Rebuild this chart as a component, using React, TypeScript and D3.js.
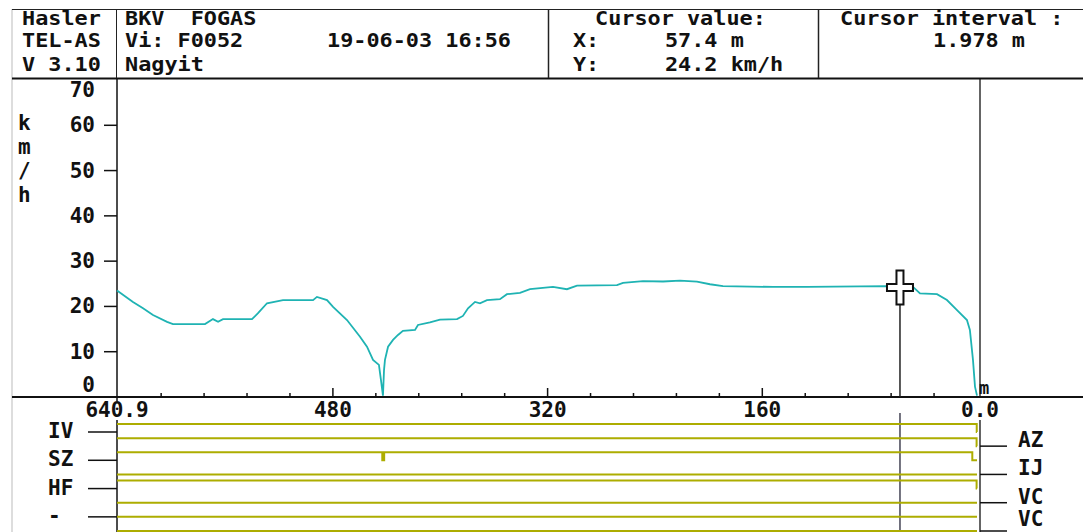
import * as d3 from "d3";

// speed recording, distance (m) counted down to the stop point
const distance = [
  640.9, 629.0, 621.5, 614.1, 603.6, 599.2, 575.3, 569.4, 565.6, 561.9, 540.3, 535.8, 529.1,
  517.2, 494.8, 491.9, 484.4, 479.9, 469.5, 459.8, 454.6, 450.1, 445.7, 444.2, 442.7, 441.9,
  441.2, 438.9, 435.2, 431.5, 427.8, 418.8, 416.6, 407.7, 400.2, 387.5, 383.1, 379.3, 374.1,
  370.4, 365.2, 355.5, 350.3, 340.6, 333.1, 316.0, 305.6, 298.1, 268.3, 263.8, 248.9, 234.0,
  221.3, 208.7, 199.0, 189.3, 152.0, 126.7, 67.1, 57.4, 47.7, 42.5, 29.8, 22.4, 14.9, 7.5,
  5.3, 3.0, 1.5, 0.0,
];
const speed = [
  23.5, 21.0, 19.6, 18.1, 16.6, 16.1, 16.1, 17.2, 16.6, 17.2, 17.2, 18.5, 20.7,
  21.4, 21.4, 22.1, 21.4, 19.9, 17.0, 13.3, 11.1, 8.2, 7.1, 3.8, 0.3, 6.0,
  8.2, 11.1, 12.6, 13.7, 14.6, 14.8, 15.9, 16.5, 17.1, 17.2, 17.9, 19.6, 21.0,
  20.7, 21.4, 21.6, 22.7, 23.0, 23.8, 24.3, 23.8, 24.6, 24.7, 25.2, 25.6, 25.5,
  25.7, 25.5, 24.9, 24.5, 24.3, 24.3, 24.5, 24.2, 24.3, 22.9, 22.7, 21.4, 19.2, 17.0,
  14.8, 8.2, 2.3, 0.3,
];

const yTicks = [10, 20, 30, 40, 50, 60];
const yTickLabels = [0, 10, 20, 30, 40, 50, 60, 70];
const xMajorTicks = [480, 320, 160];
const xMinorTicks = [608, 576, 544, 512, 448, 416, 384, 352, 288, 256, 224, 192, 128, 96, 64, 32];
const xTickLabels = [
  { v: 640.9, t: "640.9" },
  { v: 480, t: "480" },
  { v: 320, t: "320" },
  { v: 160, t: "160" },
  { v: 0, t: "0.0" },
];

// digital channels, left/right labels alternate
const channels = ["IV", "AZ", "SZ", "IJ", "HF", "VC", "-", "VC"];
// [distance, state] step points per channel
const channelStates: [number, number][][] = [
  [[640.9, 1], [0.2, 0], [0, 0]],
  [[640.9, 1], [0.3, 0], [0, 0]],
  [[640.9, 1], [443.2, 0], [441.8, 1], [3.5, 0], [0, 0]],
  [[640.9, 0], [0, 0]],
  [[640.9, 1], [0.3, 0], [0, 0]],
  [[640.9, 0], [0, 0]],
  [[640.9, 0], [0, 0]],
  [[640.9, 0], [0, 0]],
];

const cursorX = 57.4;
const cursorY = 24.2;

const W = 1083;
const H = 532;
const FONT = "'DejaVu Sans Mono', 'Liberation Mono', monospace";
const CYAN = "#1fb3b3";
const OLIVE = "#adad00";

export default function App() {
  const x = d3.scaleLinear().domain([640.9, 0]).range([117, 977]);
  const y = d3.scaleLinear().domain([0, 70]).range([397, 80]);
  const ch = d3.scaleLinear().domain([0, channels.length - 1]).range([432, 531]);

  const line = d3
    .line<number>()
    .x((_, i) => x(distance[i]))
    .y((d) => y(d));

  const stepLine = d3
    .line<[number, number]>()
    .curve(d3.curveStepAfter)
    .x((d) => x(d[0]))
    .y((d) => d[1]);

  const cx = x(cursorX);
  const cy = y(cursorY);
  const axisY = y(0);
  const rightX = x(0) + 3;

  const txt = (s: string, px: number, py: number, anchor = "start", size = 21, sx = 1) => (
    <text
      x={px / sx}
      y={py}
      textAnchor={anchor}
      fontSize={size}
      fontWeight="bold"
      fontFamily={FONT}
      fill="#111"
      transform={sx !== 1 ? `scale(${sx},1)` : undefined}
      style={{ whiteSpace: "pre" }}
    >
      {s}
    </text>
  );

  // header rows: slightly smaller font, stretched to the DOS cell width
  const hdr = (s: string, px: number, py: number) => txt(s, px, py, "start", 19.5, 1.12);

  const cross = `M${cx - 3.5},${cy - 17} h7 v13.5 h9.5 v7 h-9.5 v13.5 h-7 v-13.5 h-9.5 v-7 h9.5 z`;

  return (
    <svg
      width={W}
      height={H}
      style={{ position: "absolute", left: 0, top: 0, display: "block", background: "#fff" }}
    >
      {/* frame */}
      <line x1={12} x2={12} y1={9} y2={H} stroke="#bbb" />
      <line x1={12} x2={W} y1={9.5} y2={9.5} stroke="#222" />
      <line x1={12} x2={W} y1={78.5} y2={78.5} stroke="#111" strokeWidth={2} />
      <line x1={116.5} x2={116.5} y1={9} y2={78} stroke="#222" />
      <line x1={548.5} x2={548.5} y1={9} y2={78} stroke="#222" strokeWidth={1.5} />
      <line x1={818.5} x2={818.5} y1={9} y2={78} stroke="#222" strokeWidth={1.5} />

      {/* header */}
      {hdr("Hasler", 22, 25)}
      {hdr("TEL-AS", 22, 47)}
      {hdr("V 3.10", 22, 71)}
      {hdr("BKV  FOGAS", 125, 25)}
      {hdr("Vi: F0052", 125, 47)}
      {hdr("Nagyit", 125, 71)}
      {hdr("19-06-03 16:56", 327, 47)}
      {hdr("Cursor value:", 595, 25)}
      {hdr("X:     57.4 m", 573, 47)}
      {hdr("Y:     24.2 km/h", 573, 71)}
      {hdr("Cursor interval :", 840, 25)}
      {hdr("1.978 m", 933, 47)}

      {/* y axis */}
      <line x1={117} x2={117} y1={79} y2={401} stroke="#111" strokeWidth={1.5} />
      {yTicks.map((t) => (
        <line key={t} x1={104} x2={117} y1={y(t)} y2={y(t)} stroke="#111" strokeWidth={1.5} />
      ))}
      {yTickLabels.map((t) =>
        <g key={t}>{txt(String(t), 95, t === 70 ? 97 : t === 0 ? 392 : y(t) + 7, "end", 21)}</g>
      )}
      {["k", "m", "/", "h"].map((c, i) => (
        <g key={i}>{txt(c, 18, 130 + i * 24, "start", 21)}</g>
      ))}

      {/* right boundary */}
      <line x1={rightX} x2={rightX} y1={79} y2={397} stroke="#111" strokeWidth={1.3} />
      <line x1={rightX} x2={rightX} y1={420} y2={H} stroke="#111" strokeWidth={1.3} />

      {/* x axis */}
      <line x1={12} x2={W} y1={axisY} y2={axisY} stroke="#111" strokeWidth={2} />
      {xMajorTicks.map((t) => (
        <line key={t} x1={x(t)} x2={x(t)} y1={axisY - 9} y2={axisY} stroke="#111" strokeWidth={1.5} />
      ))}
      {xMinorTicks.map((t) => (
        <line key={t} x1={x(t)} x2={x(t)} y1={axisY - 4} y2={axisY} stroke="#111" strokeWidth={1.5} />
      ))}
      {xTickLabels.map((d) => (
        <g key={d.t}>{txt(d.t, x(d.v) + (d.v === 0 ? 3 : 0), 417, "middle", 21)}</g>
      ))}
      {txt("m", 979, 394, "start", 17)}

      {/* speed curve */}
      <path d={line(speed) ?? ""} fill="none" stroke={CYAN} strokeWidth={1.8} />

      {/* cursor */}
      <line x1={cx} x2={cx} y1={cy + 17} y2={axisY} stroke="#222" strokeWidth={1.5} />
      <line x1={cx} x2={cx} y1={413} y2={H} stroke="#445" strokeWidth={1.5} />
      <path d={cross} fill="#fff" stroke="#111" strokeWidth={2} />

      {/* digital channels */}
      <line x1={117} x2={117} y1={420} y2={H} stroke="#111" strokeWidth={1.5} />
      {channels.map((name, i) => {
        const base = ch(i);
        const left = i % 2 === 0;
        const pts = channelStates[i].map((s) => [s[0], base - s[1] * 8] as [number, number]);
        return (
          <g key={i}>
            {left ? (
              <line x1={88} x2={117} y1={base} y2={base} stroke="#111" strokeWidth={1.5} />
            ) : (
              <line x1={rightX} x2={1007} y1={base} y2={base} stroke="#111" strokeWidth={1.5} />
            )}
            {left
              ? txt(name, 48, base + 6, "start", 21)
              : txt(name, 1018, Math.min(base + 1, 526), "start", 21)}
            <path d={stepLine(pts) ?? ""} fill="none" stroke={OLIVE} strokeWidth={2} />
          </g>
        );
      })}
    </svg>
  );
}
